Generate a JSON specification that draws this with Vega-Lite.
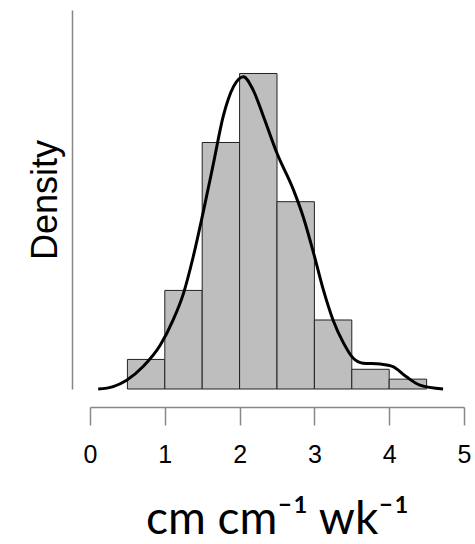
{
  "$schema": "https://vega.github.io/schema/vega-lite/v6.json",
  "autosize": "none",
  "width": 374,
  "height": 379,
  "padding": {"left": 90, "top": 10, "right": 11, "bottom": 155},
  "background": "white",
  "config": {"view": {"stroke": null}},
  "datasets": {
    "bars": [
      {"x": 0.5, "x2": 1.0, "y": 0.0606},
      {"x": 1.0, "x2": 1.5, "y": 0.2020},
      {"x": 1.5, "x2": 2.0, "y": 0.5051},
      {"x": 2.0, "x2": 2.5, "y": 0.6465},
      {"x": 2.5, "x2": 3.0, "y": 0.3838},
      {"x": 3.0, "x2": 3.5, "y": 0.1414},
      {"x": 3.5, "x2": 4.0, "y": 0.0404},
      {"x": 4.0, "x2": 4.5, "y": 0.0202}
    ],
    "curve": [
      {"x": 0.11, "y": 0.0},
      {"x": 0.31, "y": 0.005},
      {"x": 0.49, "y": 0.018},
      {"x": 0.71, "y": 0.046},
      {"x": 0.94, "y": 0.090},
      {"x": 1.11, "y": 0.141},
      {"x": 1.25, "y": 0.196},
      {"x": 1.38, "y": 0.271},
      {"x": 1.51, "y": 0.360},
      {"x": 1.65, "y": 0.462},
      {"x": 1.78, "y": 0.558},
      {"x": 1.92, "y": 0.620},
      {"x": 2.05, "y": 0.640},
      {"x": 2.18, "y": 0.613},
      {"x": 2.32, "y": 0.558},
      {"x": 2.50, "y": 0.483},
      {"x": 2.72, "y": 0.408},
      {"x": 2.85, "y": 0.353},
      {"x": 2.99, "y": 0.278},
      {"x": 3.12, "y": 0.203},
      {"x": 3.25, "y": 0.141},
      {"x": 3.39, "y": 0.094},
      {"x": 3.52, "y": 0.063},
      {"x": 3.65, "y": 0.053},
      {"x": 3.88, "y": 0.051},
      {"x": 4.05, "y": 0.046},
      {"x": 4.23, "y": 0.025},
      {"x": 4.41, "y": 0.008},
      {"x": 4.72, "y": 0.0}
    ]
  },
  "layer": [
    {
      "data": {"name": "bars"},
      "mark": {"type": "bar", "fill": "#bebebe", "stroke": "#222222", "strokeWidth": 1},
      "encoding": {
        "x": {
          "field": "x", "type": "quantitative",
          "scale": {"domain": [0, 5], "nice": false, "zero": false},
          "axis": {
            "title": "cm cm⁻¹ wk⁻¹",
            "values": [0, 1, 2, 3, 4, 5],
            "format": "d",
            "offset": 18,
            "tickSize": 18,
            "tickWidth": 1.5,
            "tickColor": "#888888",
            "domainColor": "#888888",
            "domainWidth": 1.5,
            "grid": false,
            "labelFont": "Liberation Sans",
            "labelFontSize": 25,
            "labelColor": "#000000",
            "labelPadding": 17,
            "labelFlush": false,
            "labelOverlap": false,
            "titleFont": "Lato",
            "titleFontSize": 46,
            "titleFontWeight": "normal",
            "titleColor": "#000000",
            "titlePadding": 30
          }
        },
        "x2": {"field": "x2"},
        "y": {
          "field": "y", "type": "quantitative",
          "scale": {"domain": [0, 0.7766], "nice": false, "zero": true},
          "axis": {
            "title": "Density",
            "offset": 18,
            "ticks": false,
            "labels": false,
            "grid": false,
            "domainColor": "#888888",
            "domainWidth": 1.5,
            "titleFont": "Liberation Sans",
            "titleFontSize": 36,
            "titleFontWeight": "normal",
            "titleColor": "#000000",
            "titlePadding": 8
          }
        },
        "y2": {"datum": 0}
      }
    },
    {
      "data": {"name": "curve"},
      "mark": {"type": "line", "color": "#000000", "strokeWidth": 3, "interpolate": "monotone"},
      "encoding": {
        "x": {"field": "x", "type": "quantitative"},
        "y": {"field": "y", "type": "quantitative"}
      }
    },
    {
      "mark": {"type": "rule", "color": "#333333", "strokeWidth": 1.2},
      "encoding": {
        "x": {"datum": 0},
        "x2": {"datum": 5},
        "y": {"datum": 0}
      }
    }
  ]
}
